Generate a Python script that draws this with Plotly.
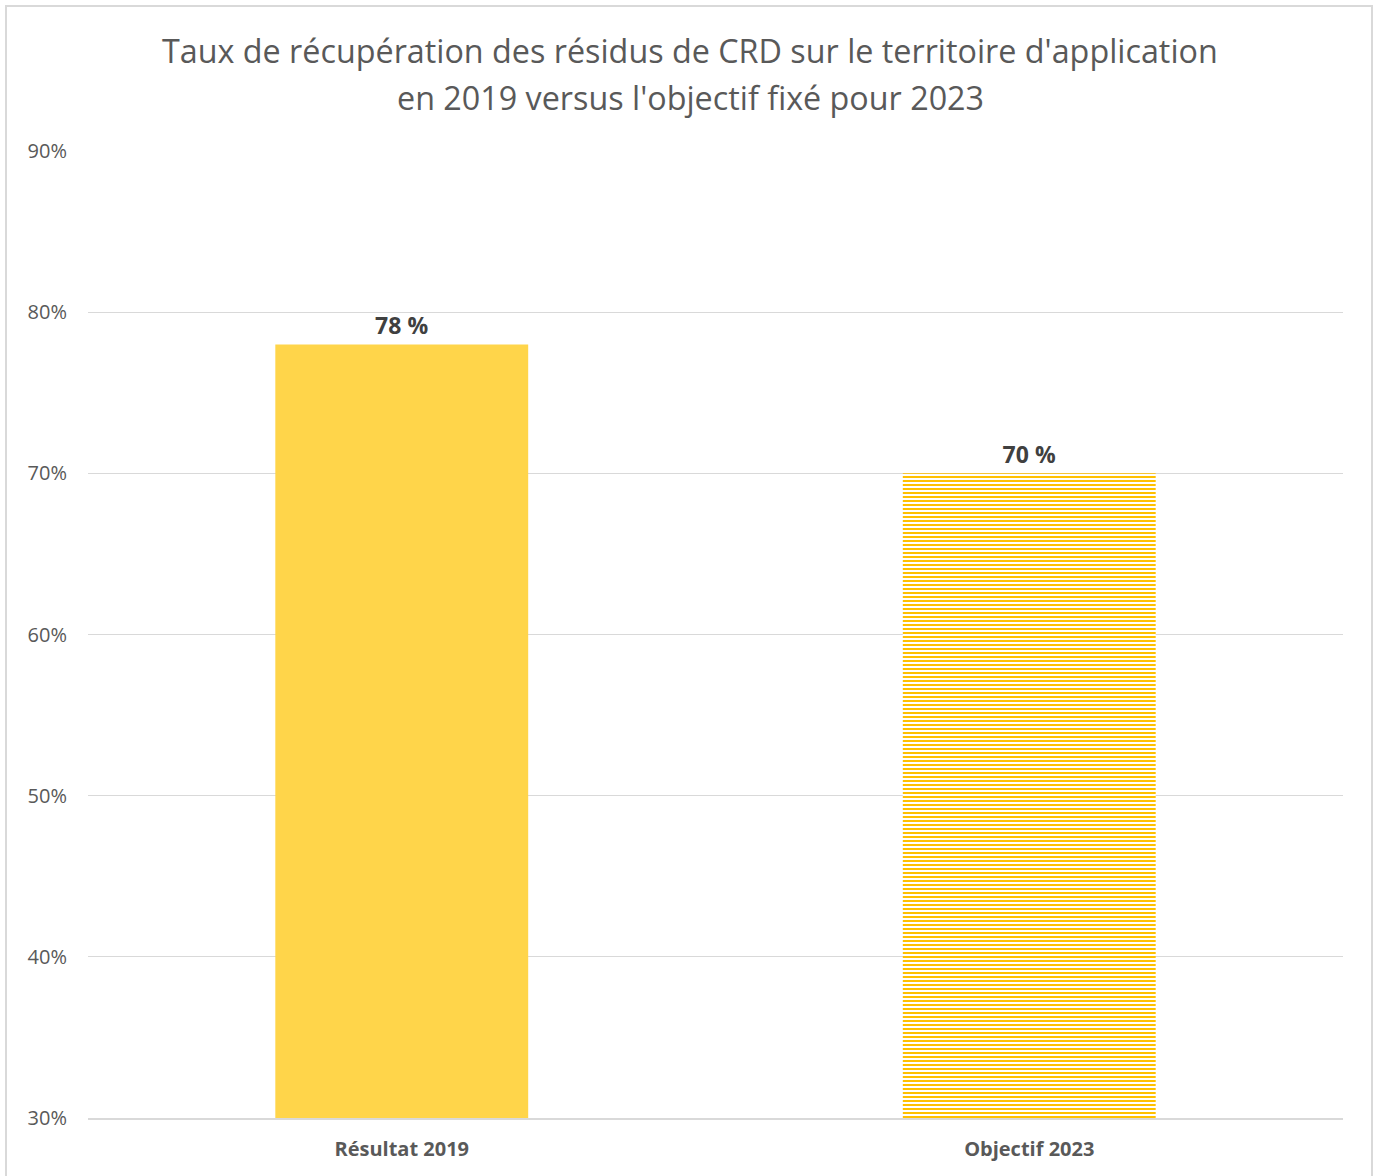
import plotly.graph_objects as go

categories = ["Résultat 2019", "Objectif 2023"]
values = [78, 70]
labels = ["78 %", "70 %"]
y_ticks = [30, 40, 50, 60, 70, 80, 90]
y_tick_text = ["30%", "40%", "50%", "60%", "70%", "80%", "90%"]
title_lines = [
    "Taux de récupération des résidus de CRD sur le territoire d'application",
    "en 2019 versus l'objectif fixé pour 2023",
]

W, H = 1375, 1176
L, R, T, B = 88, 32, 151, 58
pw, ph = W - L - R, H - T - B
FONT = "Open Sans, Noto Sans, sans-serif"

def px_x(x):
    return (x - L) / pw

def px_y(y):
    return (H - B - y) / ph

fig = go.Figure()
fig.add_trace(go.Bar(
    x=[categories[0]],
    y=[values[0]],
    base=0,
    width=0.403,
    text=[labels[0]],
    textposition="outside",
    cliponaxis=False,
    textfont=dict(family=FONT, size=23, color="#404040", weight="bold"),
    marker=dict(color="#FFD54A", line=dict(width=0)),
))
fig.add_trace(go.Bar(
    x=[categories[1]],
    y=[values[1]],
    base=0,
    width=0.403,
    text=[labels[1]],
    textposition="outside",
    cliponaxis=False,
    textfont=dict(family=FONT, size=23, color="#404040", weight="bold"),
    marker=dict(
        color="white",
        line=dict(width=0),
        pattern=dict(shape="-", fgcolor="#FFC000", fgopacity=1, bgcolor="white",
                     size=4, solidity=0.5, fillmode="overlay"),
    ),
))

annotations = [
    dict(text=title_lines[0], xref="paper", yref="paper", x=px_x(690), y=px_y(50),
         xanchor="center", yanchor="middle", showarrow=False,
         font=dict(family=FONT, size=32.3, color="#595959")),
    dict(text=title_lines[1], xref="paper", yref="paper", x=px_x(690), y=px_y(97),
         xanchor="center", yanchor="middle", showarrow=False,
         font=dict(family=FONT, size=32.3, color="#595959")),
]

fig.update_layout(
    width=W, height=H,
    margin=dict(l=L, r=R, t=T, b=B),
    paper_bgcolor="white",
    plot_bgcolor="white",
    showlegend=False,
    barmode="overlay",
    annotations=annotations,
    xaxis=dict(
        categoryorder="array", categoryarray=categories,
        showgrid=False,
        showline=True, linecolor="#D9D9D9", linewidth=1.5,
        ticks="",
        tickfont=dict(family=FONT, size=20, color="#595959", weight="bold"),
        ticklabelstandoff=12,
    ),
    yaxis=dict(
        range=[30, 90],
        tickvals=y_ticks,
        ticktext=y_tick_text,
        showgrid=True, gridcolor="#D9D9D9", gridwidth=1.3,
        zeroline=False, showline=False, ticks="",
        tickfont=dict(family=FONT, size=20, color="#595959"),
        ticklabelstandoff=20,
    ),
    shapes=[dict(
        type="rect", xref="paper", yref="paper",
        x0=px_x(6), x1=px_x(1372), y0=px_y(1180), y1=px_y(6),
        line=dict(color="#D9D9D9", width=2), fillcolor="rgba(0,0,0,0)", layer="below",
    )],
)

fig.write_html(
    "out.html",
    config={"displayModeBar": False},
    post_script="document.body.style.margin='0px';document.body.style.overflow='hidden';",
)
